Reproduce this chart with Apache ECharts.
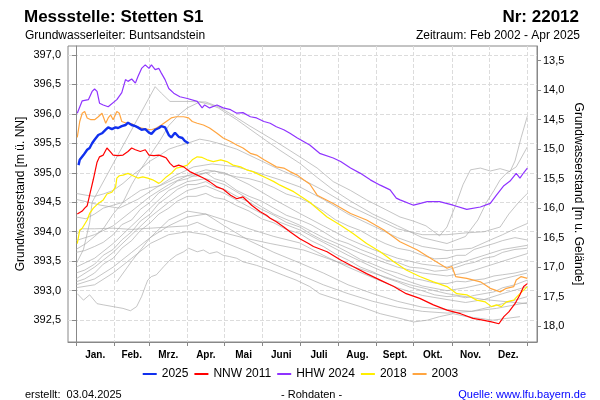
<!DOCTYPE html>
<html><head><meta charset="utf-8">
<script src="https://cdn.jsdelivr.net/npm/echarts@6/dist/echarts.min.js"></script>
<style>html,body{margin:0;padding:0;background:#fff}#c{width:600px;height:400px}</style>
</head><body><div id="c"></div>
<script>
// ---- axis definitions (values) ----
const monthNames = ['Jan.','Feb.','Mrz.','Apr.','Mai','Juni','Juli','Aug.','Sept.','Okt.','Nov.','Dez.'];
const monthStarts = [0,31,59,90,120,151,181,212,243,273,304,334,365];
const monthMids = [15.5,45,74.5,105,135.5,166,196.5,227.5,258,288.5,319,349.5];
const levelTicks = [392.5,393.0,393.5,394.0,394.5,395.0,395.5,396.0,396.5,397.0];
const depthTicks = [13.5,14.0,14.5,15.0,15.5,16.0,16.5,17.0,17.5,18.0];
const groundLevel = 410.4;
const levelMin = 392.13, levelMax = 397.15;
const dayMin = -6.5, dayMax = 372.8;

// ---- series values [day of year, level m ü. NN] ----
const y2025 = [[2,395.13],[3,395.22],[6,395.30],[9,395.39],[11,395.42],[13,395.50],[15,395.56],[18,395.64],[21,395.67],[24,395.73],[26,395.77],[29,395.74],[32,395.77],[34,395.76],[37,395.79],[40,395.81],[42,395.85],[45,395.81],[48,395.79],[50,395.77],[53,395.73],[56,395.74],[59,395.68],[61,395.66],[64,395.73],[67,395.76],[69,395.79],[72,395.77],[75,395.64],[77,395.60],[80,395.68],[83,395.61],[86,395.59],[88,395.54],[91,395.50]];
const nnw2011 = [[1,394.30],[5,394.35],[7,394.40],[9,394.44],[11,394.62],[14,394.89],[17,395.18],[19,395.27],[22,395.30],[25,395.42],[28,395.35],[30,395.30],[34,395.29],[38,395.30],[42,395.36],[45,395.42],[48,395.39],[52,395.36],[56,395.39],[59,395.30],[63,395.29],[67,395.30],[71,395.27],[73,395.25],[76,395.16],[79,395.10],[83,395.13],[87,395.10],[92,395.02],[98,394.96],[103,394.91],[108,394.85],[114,394.76],[119,394.72],[125,394.62],[130,394.56],[135,394.59],[142,394.45],[149,394.34],[154,394.28],[157,394.23],[162,394.17],[168,394.08],[173,394.00],[181,393.88],[188,393.80],[192,393.75],[203,393.66],[214,393.52],[224,393.41],[235,393.29],[246,393.18],[257,393.07],[267,392.95],[278,392.87],[289,392.76],[300,392.67],[311,392.61],[321,392.53],[329,392.50],[336,392.47],[342,392.44],[346,392.56],[350,392.64],[355,392.78],[359,392.93],[362,393.07],[365,393.12]];
const hhw2024 = [[1,396.01],[5,396.22],[10,396.24],[13,396.38],[15,396.42],[17,396.38],[19,396.18],[22,396.15],[26,396.12],[33,396.24],[37,396.36],[40,396.58],[42,396.55],[45,396.59],[48,396.52],[50,396.63],[53,396.77],[56,396.83],[59,396.77],[61,396.83],[64,396.75],[67,396.77],[69,396.69],[72,396.58],[75,396.43],[79,396.35],[84,396.29],[90,396.26],[98,396.21],[102,396.10],[104,396.15],[108,396.10],[114,396.15],[119,396.10],[125,396.07],[130,396.01],[135,396.02],[141,395.95],[146,395.93],[152,395.87],[157,395.84],[162,395.78],[168,395.73],[173,395.67],[179,395.59],[184,395.53],[189,395.47],[197,395.33],[208,395.25],[214,395.19],[222,395.08],[230,394.99],[238,394.88],[246,394.79],[254,394.71],[259,394.57],[262,394.54],[273,394.45],[284,394.51],[294,394.51],[305,394.45],[316,394.38],[327,394.42],[335,394.48],[340,394.62],[346,394.78],[351,394.86],[356,394.99],[359,394.91],[362,395.00],[365,395.08]];
const y2018 = [[1,393.80],[3,394.03],[5,394.06],[9,394.20],[11,394.31],[14,394.40],[18,394.48],[22,394.54],[25,394.64],[29,394.67],[32,394.76],[33,394.91],[35,394.95],[38,394.96],[42,394.99],[46,394.95],[50,394.91],[54,394.93],[58,394.91],[62,394.88],[67,394.82],[69,394.85],[73,394.93],[77,394.99],[81,395.08],[86,395.10],[90,395.13],[94,395.22],[98,395.27],[102,395.26],[106,395.22],[111,395.19],[117,395.22],[122,395.19],[127,395.13],[133,395.10],[138,395.05],[143,395.02],[149,394.96],[154,394.91],[160,394.85],[165,394.79],[170,394.74],[176,394.68],[181,394.61],[189,394.50],[203,394.25],[214,394.11],[224,393.97],[235,393.80],[246,393.66],[257,393.49],[267,393.35],[278,393.24],[289,393.15],[300,393.07],[308,392.95],[316,392.93],[324,392.84],[331,392.81],[336,392.73],[340,392.76],[344,392.73],[348,392.81],[354,392.84],[358,392.93],[362,393.01],[365,393.07]];
const y2003 = [[1,395.60],[3,395.87],[5,396.01],[7,396.04],[9,395.93],[12,395.90],[15,395.90],[18,395.95],[21,396.01],[24,395.84],[26,395.93],[28,395.98],[30,395.90],[33,396.04],[35,396.01],[37,395.87],[41,395.84],[45,395.83],[49,395.78],[53,395.76],[57,395.74],[61,395.73],[65,395.76],[69,395.81],[73,395.87],[77,395.93],[81,395.95],[87,395.95],[91,395.93],[94,395.87],[98,395.84],[103,395.81],[108,395.76],[114,395.67],[119,395.59],[125,395.53],[130,395.47],[135,395.42],[141,395.33],[146,395.30],[152,395.22],[157,395.16],[162,395.10],[168,395.08],[173,395.02],[179,394.96],[184,394.88],[189,394.81],[195,394.62],[208,394.48],[222,394.31],[235,394.20],[249,394.03],[262,393.83],[276,393.69],[289,393.52],[300,393.38],[304,393.41],[307,393.24],[316,393.21],[327,393.15],[335,393.04],[343,392.98],[348,393.04],[354,393.07],[356,393.18],[360,393.24],[365,393.21]];

// other years (grey)
const g01 = [[0,393.45],[6,393.70],[11,394.15],[13,394.50],[64,396.46],[69,396.35],[76,396.21],[90,396.21],[105,396.20],[115,396.12],[125,396.00],[140,395.80],[160,395.55],[181,395.27],[195,395.08],[208,394.85],[222,394.70],[235,394.54],[250,394.38],[262,394.25],[273,394.18],[283,394.10],[294,393.93],[300,394.08],[307,394.45],[313,394.80],[319,395.05],[327,395.08],[335,395.03],[343,395.07],[351,395.02],[355,395.20],[360,395.60],[365,395.96]];
const g02 = [[0,393.70],[8,393.80],[15,393.92],[22,394.05],[30,394.30],[38,394.50],[45,394.80],[52,395.05],[60,395.30],[68,395.55],[75,395.80],[83,395.98],[90,396.10],[100,396.20],[108,396.16],[115,396.10],[130,395.90],[150,395.60],[165,395.38],[181,395.16],[195,394.92],[208,394.71],[222,394.52],[240,394.30],[260,394.10],[280,393.90],[300,393.80],[315,393.92],[325,394.20],[332,394.50],[338,394.70],[343,394.88],[348,394.99],[356,395.10],[360,395.25],[365,395.44]];
const g03 = [[0,394.65],[8,394.62],[15,394.60],[22,394.64],[30,394.70],[38,394.82],[45,394.95],[52,395.06],[60,395.20],[68,395.30],[75,395.40],[82,395.45],[90,395.50],[100,395.57],[108,395.54],[115,395.50],[130,395.40],[150,395.20],[165,395.05],[181,394.91],[200,394.70],[220,394.45],[240,394.25],[260,394.05],[280,393.95],[300,393.95],[315,393.98],[330,394.00],[343,394.08],[350,394.30],[358,394.50],[365,394.65]];
const g04 = [[0,394.55],[10,394.50],[20,394.45],[35,394.40],[50,394.55],[65,394.75],[80,394.95],[95,395.10],[110,395.15],[130,395.10],[150,394.98],[165,394.88],[181,394.76],[200,394.55],[220,394.30],[240,394.10],[260,393.90],[280,393.75],[300,393.68],[320,393.72],[335,393.86],[345,393.95],[355,394.05],[365,394.14]];
const g05 = [[0,394.25],[8,394.22],[15,394.30],[22,394.40],[30,394.45],[38,394.50],[45,394.60],[52,394.70],[60,394.75],[68,394.78],[75,394.85],[82,394.92],[90,394.95],[97,394.94],[105,395.00],[112,395.03],[120,394.98],[130,394.93],[140,394.90],[150,394.84],[160,394.75],[170,394.64],[181,394.57],[190,394.48],[200,394.35],[210,394.20],[220,394.10],[230,394.02],[240,393.90],[250,393.80],[260,393.72],[270,393.68],[280,393.60],[290,393.54],[300,393.55],[308,393.60],[315,393.60],[322,393.70],[330,393.75],[338,393.80],[345,393.85],[355,393.90],[365,393.86]];
const g06 = [[0,393.85],[15,393.95],[30,394.10],[45,394.35],[60,394.60],[75,394.80],[90,394.95],[105,395.05],[120,395.00],[140,394.80],[160,394.55],[181,394.31],[200,394.10],[220,393.88],[240,393.70],[260,393.55],[280,393.45],[300,393.40],[315,393.50],[330,393.60],[345,393.70],[365,393.77]];
const g07 = [[0,393.65],[7,393.68],[15,393.75],[22,393.82],[30,393.95],[37,394.12],[45,394.20],[52,394.38],[60,394.50],[67,394.66],[75,394.75],[82,394.86],[90,394.90],[97,394.97],[105,395.00],[112,394.90],[120,394.85],[130,394.70],[140,394.60],[150,394.52],[160,394.40],[170,394.28],[181,394.20],[190,394.12],[200,394.00],[210,393.87],[220,393.80],[230,393.70],[240,393.62],[250,393.52],[260,393.48],[270,393.40],[280,393.38],[290,393.33],[300,393.35],[308,393.40],[315,393.45],[322,393.48],[330,393.55],[338,393.58],[345,393.65],[355,393.70],[365,393.72]];
const g08 = [[0,393.40],[15,393.55],[30,393.80],[45,394.10],[60,394.40],[75,394.70],[90,394.85],[105,394.90],[120,394.80],[140,394.55],[160,394.30],[181,394.11],[200,393.90],[220,393.72],[240,393.55],[260,393.40],[280,393.30],[300,393.25],[315,393.30],[330,393.40],[345,393.50],[365,393.63]];
const g09 = [[0,393.30],[7,393.35],[15,393.45],[22,393.60],[30,393.70],[37,393.86],[45,394.00],[52,394.18],[60,394.30],[67,394.48],[75,394.60],[82,394.72],[90,394.80],[97,394.80],[105,394.85],[112,394.76],[120,394.72],[130,394.60],[140,394.50],[150,394.38],[160,394.28],[170,394.16],[181,394.08],[190,393.96],[200,393.85],[210,393.76],[220,393.65],[230,393.53],[240,393.45],[250,393.36],[260,393.30],[270,393.22],[280,393.18],[290,393.13],[300,393.12],[308,393.16],[315,393.15],[322,393.18],[330,393.20],[338,393.25],[345,393.27],[355,393.30],[365,393.35]];
const g10 = [[0,393.20],[15,393.40],[30,393.65],[45,393.95],[60,394.25],[75,394.50],[90,394.70],[105,394.78],[120,394.65],[140,394.42],[160,394.20],[181,394.03],[200,393.82],[220,393.60],[240,393.40],[260,393.22],[280,393.08],[300,393.00],[315,393.05],[330,393.12],[345,393.20],[365,393.30]];
const g11 = [[0,393.15],[7,393.20],[15,393.30],[22,393.45],[30,393.55],[37,393.72],[45,393.85],[52,394.02],[60,394.15],[67,394.30],[75,394.40],[82,394.52],[90,394.60],[97,394.60],[105,394.65],[112,394.58],[120,394.55],[130,394.44],[140,394.35],[150,394.22],[160,394.15],[170,394.04],[181,393.97],[190,393.85],[200,393.75],[210,393.62],[220,393.52],[230,393.40],[240,393.32],[250,393.22],[260,393.15],[270,393.06],[280,393.00],[290,392.93],[300,392.90],[308,392.91],[315,392.88],[322,392.92],[330,392.95],[338,392.98],[345,393.05],[355,393.10],[365,393.18]];
const g12 = [[0,393.10],[15,393.20],[30,393.40],[45,393.65],[60,393.90],[75,394.10],[90,394.25],[105,394.30],[120,394.20],[140,394.05],[160,393.92],[181,393.81],[200,393.60],[220,393.40],[240,393.22],[260,393.05],[280,392.92],[300,392.85],[315,392.80],[330,392.85],[345,392.95],[365,393.07]];
const g13 = [[33,393.15],[45,393.50],[60,393.90],[75,394.20],[90,394.35],[105,394.30],[120,394.10],[140,393.85],[160,393.65],[181,393.47],[200,393.30],[220,393.10],[240,392.95],[260,392.82],[280,392.72],[300,392.68],[320,392.65],[340,392.70],[365,392.80]];
const g14 = [[0,393.05],[15,393.10],[30,393.30],[45,393.55],[60,393.80],[75,393.95],[90,394.00],[105,393.95],[120,393.82],[140,393.65],[160,393.45],[181,393.27],[200,393.10],[220,392.95],[240,392.82],[260,392.72],[280,392.65],[300,392.62],[320,392.65],[340,392.75],[365,392.90]];
const g15 = [[0,393.95],[5,394.05],[15,394.05],[30,394.06],[45,394.04],[60,394.06],[75,394.08],[90,394.10],[98,394.16],[108,394.06],[120,393.98],[135,393.90],[157,393.80],[184,393.69],[210,393.50],[240,393.30],[270,393.10],[300,392.95],[330,392.85],[365,392.78]];
const g16 = [[1,392.95],[6,392.84],[11,392.93],[17,392.78],[22,392.76],[30,392.73],[38,392.70],[44,392.66],[49,392.73],[53,392.90],[56,393.07],[58,393.18],[61,393.24],[65,393.27],[71,393.41],[76,393.52],[81,393.60],[87,393.66],[91,393.72],[98,393.66],[103,393.69],[108,393.63],[114,393.66],[119,393.60],[124,393.58],[130,393.55],[135,393.49],[146,393.43],[157,393.35],[168,393.26],[178,393.18],[189,393.07],[197,392.95],[213,392.84],[230,392.73],[246,392.61],[262,392.53],[273,392.47],[284,392.50],[294,392.56],[305,392.61],[316,392.56],[327,392.53],[337,392.50],[348,392.53],[359,392.56]];
const greyYears = [g01,g02,g03,g04,g05,g06,g07,g08,g09,g10,g11,g12,g13,g14,g15,g16];

const FONT = '"Liberation Sans", Arial, sans-serif';
const fmt = v => v.toFixed(1).replace('.', ',');

const series = greyYears.map(d => ({
  type: 'line', data: d, symbol: 'none', silent: true, z: 1,
  lineStyle: { color: '#a9a9a9', width: 0.8, opacity: 0.85 }, itemStyle: { color: '#a9a9a9' }
}));
const colored = [
  { name: '2003', data: y2003, color: '#ffa540', width: 1.2 },
  { name: '2018', data: y2018, color: '#ffee00', width: 1.2 },
  { name: 'HHW 2024', data: hhw2024, color: '#8f33ff', width: 1.2 },
  { name: 'NNW 2011', data: nnw2011, color: '#ff0000', width: 1.2 },
  { name: '2025', data: y2025, color: '#1030ee', width: 2.4 }
];
colored.forEach((c, i) => series.push({
  name: c.name, type: 'line', data: c.data, symbol: 'none', z: 3 + i,
  lineStyle: { color: c.color, width: c.width }, itemStyle: { color: c.color }
}));

const chart = echarts.init(document.getElementById('c'), null, { renderer: 'canvas' });
chart.setOption({
  animation: false,
  backgroundColor: '#fff',
  textStyle: { fontFamily: FONT },
  title: [
    { text: 'Messstelle: Stetten S1', left: 19, top: 4, textStyle: { fontSize: 17, fontWeight: 'bold', color: '#000', fontFamily: FONT } },
    { text: 'Grundwasserleiter: Buntsandstein', left: 20, top: 25, textStyle: { fontSize: 12, fontWeight: 'normal', color: '#000', fontFamily: FONT } },
    { text: 'Nr: 22012', right: 16, top: 4, textStyle: { fontSize: 17, fontWeight: 'bold', color: '#000', fontFamily: FONT } },
    { text: 'Zeitraum: Feb 2002 - Apr 2025', right: 15, top: 25, textStyle: { fontSize: 12, fontWeight: 'normal', color: '#000', fontFamily: FONT } },
    { text: 'erstellt:  03.04.2025', left: 20, top: 384, textStyle: { fontSize: 11, fontWeight: 'normal', color: '#000', fontFamily: FONT } },
    { text: '- Rohdaten -', left: 276, top: 384, textStyle: { fontSize: 11, fontWeight: 'normal', color: '#000', fontFamily: FONT } },
    { text: 'Quelle: www.lfu.bayern.de', right: 9, top: 384, textStyle: { fontSize: 11, fontWeight: 'normal', color: '#0000ff', fontFamily: FONT } }
  ],
  legend: {
    data: ['2025', 'NNW 2011', 'HHW 2024', '2018', '2003'],
    left: 'center', top: 363, itemWidth: 14, itemHeight: 10, itemGap: 5,
    itemStyle: { opacity: 0 },
    textStyle: { fontSize: 12, color: '#000', fontFamily: FONT }
  },
  grid: { left: 68, right: 63, top: 46, bottom: 58, show: true, borderColor: '#888', borderWidth: 1, backgroundColor: '#fff' },
  xAxis: {
    type: 'value', min: dayMin, max: dayMax,
    axisLine: { show: true, lineStyle: { color: '#888' } },
    axisTick: { show: true, customValues: monthStarts, length: 4, inside: false, lineStyle: { color: '#888' } },
    axisLabel: {
      customValues: monthMids, margin: 8, fontSize: 10, fontWeight: 'bold', color: '#000', fontFamily: FONT,
      formatter: v => { const i = monthMids.indexOf(v); return i >= 0 ? monthNames[i] : ''; }
    },
    splitLine: { show: true, lineStyle: { type: 'dashed', color: '#dcdcdc', width: 1 } }
  },
  yAxis: [
    {
      type: 'value', position: 'left', min: levelMin, max: levelMax,
      name: 'Grundwasserstand [m ü. NN]', nameLocation: 'middle', nameGap: 41, nameRotate: 90, nameMoveOverlap: false,
      nameTextStyle: { fontSize: 12, color: '#000', fontFamily: FONT },
      axisLine: { show: true, lineStyle: { color: '#888' } },
      axisTick: { show: true, customValues: levelTicks, length: 4, lineStyle: { color: '#888' } },
      axisLabel: { customValues: levelTicks, formatter: fmt, fontSize: 11, color: '#000', margin: 7, fontFamily: FONT },
      splitLine: { show: true, lineStyle: { type: 'dashed', color: '#dcdcdc', width: 1 } }
    },
    {
      type: 'value', position: 'right', inverse: true,
      min: groundLevel - levelMax, max: groundLevel - levelMin,
      name: 'Grundwasserstand [m u. Gelände]', nameLocation: 'middle', nameGap: 35, nameRotate: -90, nameMoveOverlap: false,
      nameTextStyle: { fontSize: 12, color: '#000', fontFamily: FONT },
      axisLine: { show: true, lineStyle: { color: '#888' } },
      axisTick: { show: true, customValues: depthTicks, length: 4, lineStyle: { color: '#888' } },
      axisLabel: { customValues: depthTicks, formatter: fmt, fontSize: 11, color: '#000', margin: 6, fontFamily: FONT },
      splitLine: { show: false }
    }
  ],
  series: series
});
</script></body></html>
